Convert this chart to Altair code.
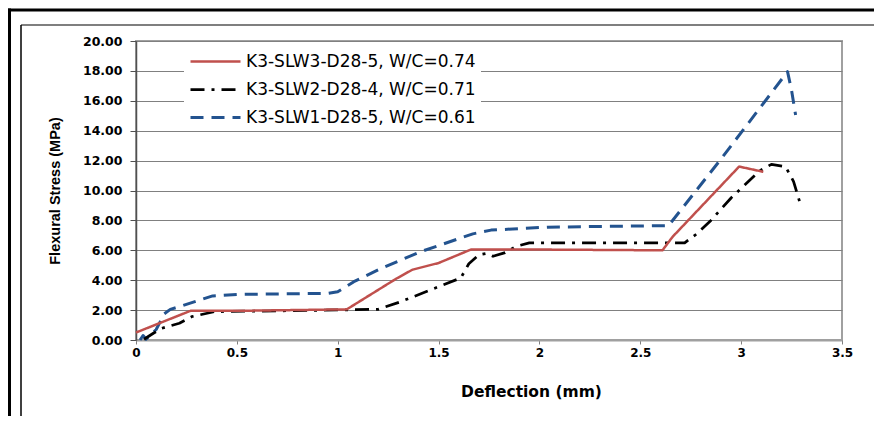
import altair as alt
import pandas as pd

series_names = ["K3-SLW3-D28-5, W/C=0.74", "K3-SLW2-D28-4, W/C=0.71", "K3-SLW1-D28-5, W/C=0.61"]
series_colors = ["#C0504D", "#000000", "#23538F"]
series_dashes = [[1, 0], [14, 7, 3, 7], [13, 8]]
series_widths = [2.5, 3, 3]

red_x = [0, 0.27, 0.5, 1.045, 1.29, 1.37, 1.5, 1.66, 2.0, 2.61, 2.66, 2.99, 3.11]
red_y = [0.5, 1.95, 1.95, 2.05, 4.1, 4.7, 5.15, 6.05, 6.05, 6.0, 6.9, 11.6, 11.25]

black_x = [0.04, 0.086, 0.127, 0.215, 0.276, 0.39, 0.7, 1.2, 1.31, 1.61, 1.65, 1.7, 1.74, 1.77,
           1.83, 1.88, 1.95, 2.4, 2.72, 2.78, 2.85, 2.95, 3.02, 3.09, 3.15, 3.22, 3.26, 3.29]
black_y = [0.05, 0.45, 0.78, 1.12, 1.56, 1.9, 1.95, 2.05, 2.55, 4.15, 5.1, 5.7, 5.8, 5.6,
           5.84, 6.24, 6.5, 6.5, 6.5, 7.1, 8.0, 9.5, 10.4, 11.3, 11.75, 11.6, 10.6, 9.25]

blue_x = [0.02, 0.035, 0.05, 0.1, 0.14, 0.17, 0.22, 0.3, 0.38, 0.5, 0.95, 1.0, 1.08, 1.21,
          1.41, 1.67, 1.76, 2.04, 2.64, 2.9, 3.23, 3.25, 3.27]
blue_y = [0.0, 0.3, 0.05, 0.7, 1.75, 2.05, 2.25, 2.6, 2.95, 3.05, 3.12, 3.23, 3.9, 4.75,
          5.9, 7.1, 7.35, 7.55, 7.65, 12.1, 17.95, 16.7, 15.05]

x_ticks = [0, 0.5, 1, 1.5, 2, 2.5, 3, 3.5]
y_ticks = [0, 2, 4, 6, 8, 10, 12, 14, 16, 18, 20]

rows = []
for name, xs, ys in [(series_names[2], blue_x, blue_y),
                     (series_names[1], black_x, black_y),
                     (series_names[0], red_x, red_y)]:
    for i, (xv, yv) in enumerate(zip(xs, ys)):
        rows.append({"series": name, "x": xv, "y": yv, "idx": i})
df = pd.DataFrame(rows)

legend = alt.Legend(
    title=None, orient="none", legendX=48, legendY=4,
    symbolType="M-1,0H4", symbolSize=400, symbolStrokeWidth=3,
    labelFont="DejaVu Sans", labelFontSize=17, labelColor="black",
    labelOffset=34, padding=5, fillColor="white", rowPadding=8, labelLimit=400,
)

lines = alt.Chart(df).mark_line(strokeJoin="round").encode(
    x=alt.X("x:Q", scale=alt.Scale(domain=[0, 3.5], nice=False, zero=False),
            axis=alt.Axis(values=x_ticks, format="~g", title="Deflection (mm)",
                          titleFont="DejaVu Sans", titleFontSize=15.5, titleFontWeight="bold",
                          titleColor="black", titleX=395, titleY=51, titleBaseline="middle",
                          titleAlign="center",
                          labelFont="DejaVu Sans", labelFontWeight="bold", labelFontSize=12,
                          labelColor="black", labelPadding=3, tickSize=4, tickColor="#808080",
                          domainColor="#a0a0a0", domainWidth=2, grid=False, labelFlush=False)),
    y=alt.Y("y:Q", scale=alt.Scale(domain=[0, 20], nice=False),
            axis=alt.Axis(values=y_ticks, format=".2f", title="Flexural Stress (MPa)",
                          titleFont="Liberation Sans", titleFontSize=14.5, titleFontWeight="bold",
                          titleColor="black", titleAngle=270, titleX=-81, titleY=149.5,
                          titleBaseline="middle", titleAlign="center",
                          labelFont="DejaVu Sans", labelFontWeight="bold", labelFontSize=12.5,
                          labelColor="black", labelPadding=8, tickSize=6, tickColor="#505050",
                          grid=True, gridColor="#808080", gridWidth=1,
                          domainColor="#505050", domainWidth=1.5)),
    color=alt.Color("series:N", scale=alt.Scale(domain=series_names, range=series_colors), legend=legend),
    strokeDash=alt.StrokeDash("series:N", scale=alt.Scale(domain=series_names, range=series_dashes), legend=legend),
    strokeWidth=alt.StrokeWidth("series:N", scale=alt.Scale(domain=series_names, range=series_widths), legend=None),
    order=alt.Order("idx:Q"),
)

one = pd.DataFrame({"k": [0]})
frame_top = alt.Chart(one).mark_rule(color="black", strokeWidth=3).encode(
    x=alt.value(-128), x2=alt.value(747), y=alt.value(-31))
frame_left = alt.Chart(one).mark_rule(color="black", strokeWidth=3).encode(
    x=alt.value(-126.5), y=alt.value(-32.5), y2=alt.value(384))
inner_top = alt.Chart(one).mark_rule(color="#555555", strokeWidth=1.5).encode(
    x=alt.value(-115), x2=alt.value(747), y=alt.value(-16))
inner_left = alt.Chart(one).mark_rule(color="#000000", strokeWidth=1.5).encode(
    x=alt.value(-115), y=alt.value(-16), y2=alt.value(384))

chart = alt.layer(frame_top, frame_left, inner_top, inner_left, lines).properties(
    width=706, height=299,
    autosize=alt.AutoSizeParams(type="none"),
    padding={"left": 128, "top": 33, "right": 32, "bottom": 76},
    background="white",
).configure_view(stroke="#a0a0a0", strokeWidth=2)

chart.save("out.html", embed_options={"renderer": "svg", "actions": False})
